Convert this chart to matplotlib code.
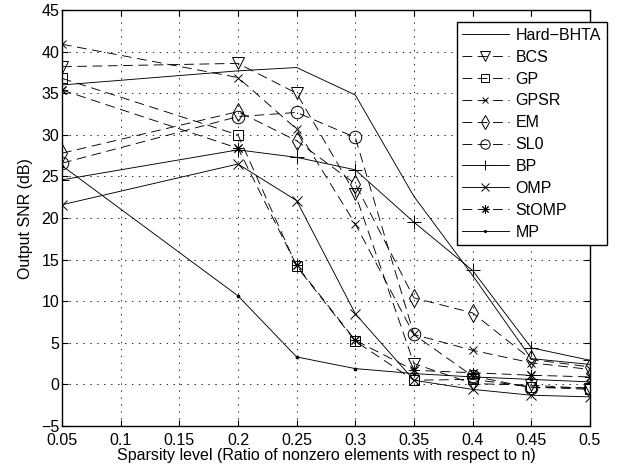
import numpy as np
import matplotlib
matplotlib.use("Agg")
import matplotlib.pyplot as plt

# sparsity levels (x axis)
sparsity = [0.05, 0.2, 0.25, 0.3, 0.35, 0.4, 0.45, 0.5]

# output SNR (dB) for each method
hard_bhta = [36.0, 37.7, 38.1, 34.8, 22.6, 13.1, 3.1, 2.4]
bcs = [38.2, 38.6, 35.0, 22.9, 2.5, 0.1, -0.1, -0.5]
gp = [36.8, 30.0, 14.2, 5.2, 0.5, 0.6, -0.3, -0.6]
gpsr = [40.9, 36.9, 30.7, 19.3, 6.0, 4.1, 2.6, 1.8]
em = [27.8, 32.8, 29.3, 24.1, 10.4, 8.6, 3.0, 2.1]
sl0 = [26.6, 32.2, 32.7, 29.7, 6.0, 1.0, -0.4, -0.4]
bp = [24.6, 28.2, 27.3, 25.8, 19.5, 13.7, 4.4, 2.9]
omp = [21.6, 26.5, 22.1, 8.5, 0.5, -0.6, -1.3, -1.5]
stomp = [35.4, 28.4, 14.3, 5.3, 1.7, 1.4, 1.1, 0.9]
mp = [26.3, 10.65, 3.3, 1.9, 1.3, 0.9, 0.6, 0.3]

labels = ['Hard\u2212BHTA', 'BCS', 'GP', 'GPSR', 'EM', 'SL0', 'BP', 'OMP', 'StOMP', 'MP']
series = [hard_bhta, bcs, gp, gpsr, em, sl0, bp, omp, stomp, mp]
# matlab style asterisk = 8 spoked marker
markers = ['', 'v', 's', 'x', 'd', 'o', '+', 'x', (8, 2, 0), '.']
styles = ['-', '--', '--', '--', '--', '--', '-', '-', '--', '-']
msizes = [0, 9, 7, 6, 9, 9, 10, 7, 8, 4]

xticks = [0.05, 0.1, 0.15, 0.2, 0.25, 0.3, 0.35, 0.4, 0.45, 0.5]
xticklabels = ['0.05', '0.1', '0.15', '0.2', '0.25', '0.3', '0.35', '0.4', '0.45', '0.5']
yticks = list(range(-5, 50, 5))

plt.rcParams['font.family'] = ['Liberation Sans', 'DejaVu Sans']
plt.rcParams['lines.scale_dashes'] = False

fig = plt.figure(figsize=(6.3, 4.72), dpi=100)
ax = fig.add_axes([0.0984, 0.0975, 0.838, 0.881])

for y, lab, m, ls, ms in zip(series, labels, markers, styles, msizes):
    line, = ax.plot(sparsity, y, color='k', linestyle=ls, linewidth=0.65,
                    marker=m if m != '' else None, markersize=ms,
                    markerfacecolor='k' if m == '.' else 'none',
                    markeredgewidth=0.7, label=lab)
    if ls == '--':
        line.set_dashes((7, 4))

ax.set_xlim(0.05, 0.5)
ax.set_ylim(-5, 45)
ax.set_xticks(xticks)
ax.set_xticklabels(xticklabels)
ax.set_yticks(yticks)
ax.tick_params(direction='in', top=True, right=True, labelsize=11.5, length=4)
ax.tick_params(axis='x', pad=5)
ax.tick_params(axis='y', pad=2)
ax.grid(True, linestyle=(0, (1, 4)), color='k', linewidth=0.6)
for s in ax.spines.values():
    s.set_linewidth(1.0)

ax.set_xlabel('Sparsity level (Ratio of nonzero elements with respect to n)', fontsize=11.5, labelpad=0)
ax.set_ylabel('Output SNR (dB)', fontsize=11.5, labelpad=6)

leg = ax.legend(loc='upper left', bbox_to_anchor=(0.7475, 0.971), fontsize=11.5,
                handlelength=2.9, labelspacing=0.43, borderpad=0.35,
                handletextpad=0.45, borderaxespad=0, markerscale=0.75,
                fancybox=False, framealpha=1, edgecolor='k')
leg.get_frame().set_linewidth(1.0)

fig.savefig('out.png', dpi=100)
